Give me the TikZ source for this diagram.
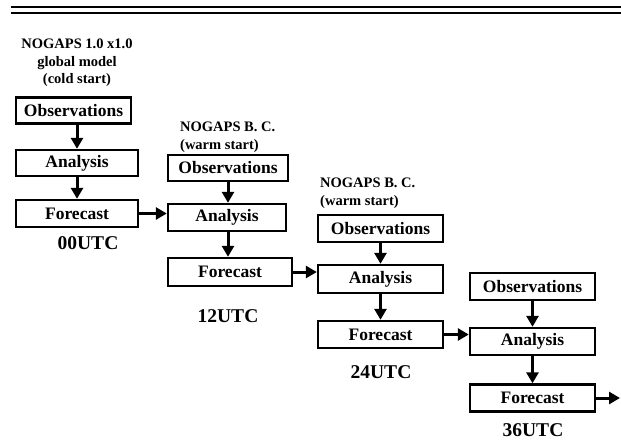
\documentclass[tikz,border=0pt]{standalone}
\usepackage{fontspec}
\setmainfont{Liberation Serif}
\usetikzlibrary{arrows.meta}
\tikzset{
  box/.style={draw,line width=2.4pt,minimum height=26pt,inner sep=0pt,
              font=\fontsize{17.5}{19}\selectfont\bfseries},
  flow/.style={-{Triangle[length=11pt,width=12pt]},line width=3pt},
  note/.style={align=left,inner sep=0pt,font=\fontsize{14.5}{17.5}\selectfont\bfseries},
  stamp/.style={inner sep=0pt,font=\fontsize{19.5}{22}\selectfont\bfseries}
}
\begin{document}
\begin{tikzpicture}[x=1pt,y=-1pt]
  \useasboundingbox (0,0) rectangle (621,442);
  % double rule along the top
  \draw[line width=2pt] (11,7) -- (621,7);
  \draw[line width=2pt] (11,13) -- (621,13);

  % 00UTC: cold start from the global model
  \node[note,align=center] (tA) at (77,63) {NOGAPS 1.0 x1.0\\global model\\(cold start)};
  \node[box,minimum width=115pt] (obsA) at (73.5,110.5) {Observations};
  \node[box,minimum width=122pt] (anaA) at (77,163) {Analysis};
  \node[box,minimum width=122pt,minimum height=27pt] (fcA) at (77,213.5) {Forecast};
  \node[stamp] (uA) at (88,243) {00UTC};
  \draw[flow] (anaA.north |- obsA.south) -- (anaA.north);
  \draw[flow] (anaA.south) -- (fcA.north);

  % 12UTC
  \node[note,anchor=west] (tB) at (180,137) {NOGAPS B. C.\\(warm start)};
  \node[box,minimum width=120pt] (obsB) at (228,168) {Observations};
  \node[box,minimum width=118pt,minimum height=27pt] (anaB) at (227,217.5) {Analysis};
  \node[box,minimum width=124pt,minimum height=28pt] (fcB) at (230,272) {Forecast};
  \node[stamp] (uB) at (228,316) {12UTC};
  \draw[flow] (obsB.south) -- (obsB.south |- anaB.north);
  \draw[flow] (obsB.south |- anaB.south) -- (obsB.south |- fcB.north);
  \draw[flow] (fcA.east) -- (fcA.east -| anaB.west);

  % 24UTC
  \node[note,anchor=west] (tC) at (320,193) {NOGAPS B. C.\\(warm start)};
  \node[box,minimum width=125pt,minimum height=27pt] (obsC) at (380.5,228.5) {Observations};
  \node[box,minimum width=125pt,minimum height=28pt] (anaC) at (380.5,279) {Analysis};
  \node[box,minimum width=125pt,minimum height=27pt] (fcC) at (380.5,334.5) {Forecast};
  \node[stamp] (uC) at (381,372) {24UTC};
  \draw[flow] (obsC.south) -- (anaC.north);
  \draw[flow] (anaC.south) -- (fcC.north);
  \draw[flow] (fcB.east) -- (fcB.east -| anaC.west);

  % 36UTC
  \node[box,minimum width=125pt,minimum height=27pt] (obsD) at (532.5,286.5) {Observations};
  \node[box,minimum width=125pt,minimum height=27pt] (anaD) at (532.5,341.5) {Analysis};
  \node[box,minimum width=125pt,minimum height=27pt] (fcD) at (532.5,398) {Forecast};
  \node[stamp] (uD) at (533,430) {36UTC};
  \coordinate (out) at (620,398);
  \draw[flow] (obsD.south) -- (anaD.north);
  \draw[flow] (anaD.south) -- (fcD.north);
  \draw[flow] (fcC.east) -- (fcC.east -| anaD.west);
  \draw[flow] (fcD.east) -- (out);
\end{tikzpicture}
\end{document}
